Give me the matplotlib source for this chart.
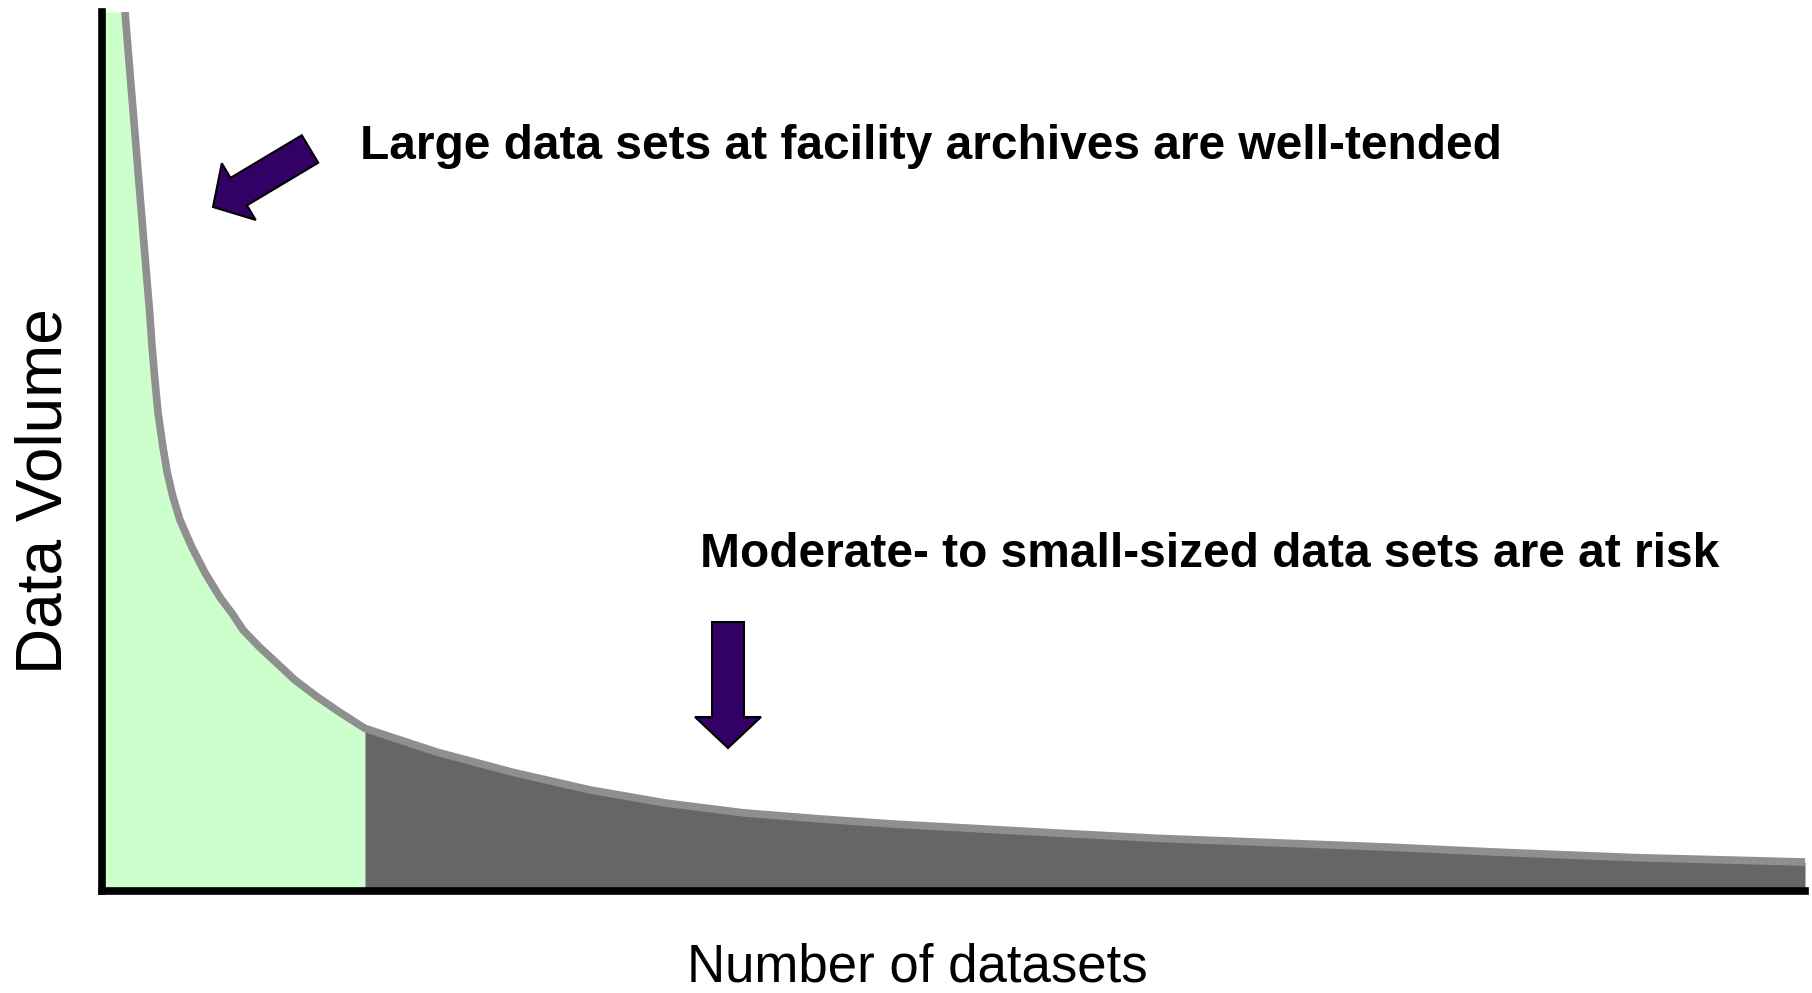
import numpy as np
import matplotlib.pyplot as plt
from matplotlib.patches import FancyArrow

# Curve (arbitrary units, 0..100 on both axes)
datasets = [1.35, 2.64, 2.80, 2.94, 3.11, 3.29, 3.58, 3.82, 4.17, 4.58,
            5.28, 6.05, 6.93, 7.63, 8.28, 9.22, 10.28, 11.33, 12.63, 13.98,
            15.44, 19.67, 24.13, 28.66, 33.12, 37.64, 42.16, 46.62, 50.44,
            55.08, 61.89, 68.7, 75.46, 82.21, 90.0, 100.0]
volume = [100.0, 69.5, 65.8, 61.9, 58.1, 54.4, 50.5, 47.7, 44.8, 42.2,
          39.1, 36.2, 33.4, 31.6, 29.7, 27.8, 25.9, 24.0, 22.1, 20.3,
          18.5, 15.8, 13.5, 11.5, 10.0, 8.9, 8.2, 7.6, 7.2,
          6.7, 6.0, 5.5, 5.0, 4.4, 3.8, 3.3]
split = 15.44  # where the well-tended part ends

top_label = "Large data sets at facility archives are well-tended"
mid_label = "Moderate- to small-sized data sets are at risk"
x_label = "Number of datasets"
y_label = "Data Volume"

GREEN = '#ccffcc'
DARK = '#666666'
LINE = '#8f8f8f'
PURPLE = '#330066'

W, H = 1812, 993
fig = plt.figure(figsize=(W / 100, H / 100), dpi=100)

# main axes, placed in pixels of the figure
ax = fig.add_axes([102 / W, 1 - 891 / H, 1703 / W, 879 / H])
ax.set_xlim(0, 100)
ax.set_ylim(0, 100)
x = np.array(datasets)
y = np.array(volume)
left = x <= split
right = x >= split
# green part runs from the y axis, along the top edge, down the curve
ytop = ax.get_ylim()[1]
ax.fill_between(np.r_[0, x[left]], 0, np.r_[ytop, y[left]],
                color=GREEN, lw=0, zorder=1)
ax.fill_between(x[right], 0, y[right], color=DARK, lw=0, zorder=1)
ax.plot(x, y, color=LINE, lw=5.5, solid_capstyle='butt', zorder=2)
ax.set_xticks([])
ax.set_yticks([])
ax.spines['top'].set_visible(False)
ax.spines['right'].set_visible(False)
for s in ['left', 'bottom']:
    ax.spines[s].set_linewidth(5.5)
    ax.spines[s].set_color('black')
ax.patch.set_alpha(0)

# overlay in pixel units for arrows and text
ov = fig.add_axes([0, 0, 1, 1], zorder=5)
ov.set_xlim(0, W)
ov.set_ylim(H, 0)
ov.axis('off')
ov.patch.set_alpha(0)

font = 'Liberation Sans'
ov.text(360, 159, top_label, fontsize=34.5, fontweight='bold', family=font,
        ha='left', va='baseline')
ov.text(700, 567, mid_label, fontsize=34.5, fontweight='bold', family=font,
        ha='left', va='baseline')
ov.text(917, 981, x_label, fontsize=38, family=font, ha='center', va='baseline')
ov.text(45, 491, y_label, fontsize=46, family=font, rotation=90,
        ha='center', va='center')

arrow_kw = dict(width=32, head_width=66, length_includes_head=True,
                fc=PURPLE, ec='black', lw=1.5)
ov.add_patch(FancyArrow(310, 149, 213 - 310, 207 - 149, head_length=30, **arrow_kw))
ov.add_patch(FancyArrow(728, 622, 0, 748 - 622, head_length=31, **arrow_kw))

fig.savefig('out.png', dpi=100)
